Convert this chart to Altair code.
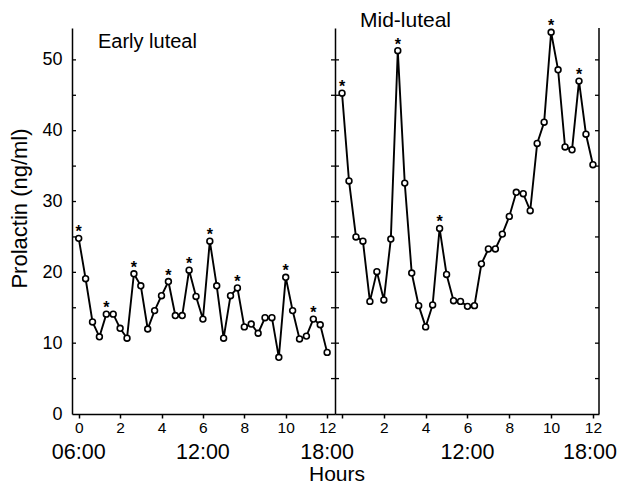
import altair as alt
import pandas as pd

# sampling times (minutes from start of each 12-h session)
minutes = [0, 20, 40, 60, 80, 100, 120, 140, 160, 180, 200, 220, 240, 260, 280,
           300, 320, 340, 360, 380, 400, 420, 440, 460, 480, 500, 520, 540, 560,
           580, 600, 620, 640, 660, 680, 700, 720]

early_luteal = [24.8, 19.1, 13.0, 10.9, 14.1, 14.1, 12.1, 10.7, 19.8, 18.1, 12.0,
                14.6, 16.7, 18.7, 13.9, 13.9, 20.3, 16.6, 13.4, 24.4, 18.1, 10.7,
                16.7, 17.8, 12.3, 12.7, 11.4, 13.6, 13.6, 8.0, 19.3, 14.6, 10.6,
                11.0, 13.4, 12.6, 8.7]

mid_luteal = [45.3, 32.9, 25.0, 24.4, 15.9, 20.1, 16.1, 24.7, 51.3, 32.6, 19.9,
              15.3, 12.3, 15.4, 26.2, 19.7, 16.0, 15.9, 15.2, 15.3, 21.2, 23.3,
              23.3, 25.4, 27.9, 31.3, 31.1, 28.7, 38.2, 41.2, 53.9, 48.6, 37.7,
              37.3, 47.0, 39.5, 35.2]

early_star_idx = [0, 4, 8, 13, 16, 19, 23, 30, 34]
mid_star_idx = [0, 8, 14, 30, 34]

y_tick_values = [0, 5, 10, 15, 20, 25, 30, 35, 40, 45, 50]
inner_tick_values = [5, 10, 15, 20, 25, 30, 35, 40, 45, 50]
x_tick_values = [0, 1, 2, 3, 4, 5, 6, 7, 8, 9, 10, 11, 12]

early_clock_hours = [0, 6, 12]
early_clock_labels = ["06:00", "12:00", "18:00"]
early_clock_dx = [0, 0, 0]
mid_clock_hours = [6, 12]
mid_clock_labels = ["12:00", "18:00"]
mid_clock_dx = [0, -3]

FONT = "Liberation Sans"
H = 386
W1 = 263
W2 = 264
Y_DOMAIN = [0, 54.5]


def make_df(values, star_idx):
    return pd.DataFrame({
        "h": [m / 60 for m in minutes],
        "v": values,
        "star": [i in star_idx for i in range(len(values))],
    })


df_early = make_df(early_luteal, early_star_idx)
df_mid = make_df(mid_luteal, mid_star_idx)
ticks_df = pd.DataFrame({"t": inner_tick_values})


def panel(df, xdom, width, left, clock_hours, clock_labels, clock_dx, name, name_x,
          name_y, name_size):
    if left:
        xlab = "datum.value % 2 == 0 ? datum.label : ''"
        yaxis = alt.Axis(values=y_tick_values,
                         labelExpr="datum.value % 10 == 0 ? datum.label : ''",
                         tickSize=0, labelPadding=10, labelFontSize=18,
                         labelFont=FONT, title="Prolactin (ng/ml)",
                         titleFont=FONT, titleFontSize=22, titleFontWeight="normal",
                         titlePadding=10, titleColor="black", titleY=180)
    else:
        xlab = "datum.value % 2 == 0 && datum.value > 0 ? datum.label : ''"
        yaxis = alt.Axis(values=y_tick_values, labels=False, ticks=False, title=None)

    xs = alt.Scale(domain=xdom, nice=False, zero=False)
    ys = alt.Scale(domain=Y_DOMAIN, nice=False)
    x = alt.X("h:Q", scale=xs,
              axis=alt.Axis(values=x_tick_values, labelExpr=xlab, tickSize=4,
                            tickWidth=1.5, labelPadding=2, labelFontSize=15.5,
                            labelFont=FONT, title=None))
    y = alt.Y("v:Q", scale=ys, axis=yaxis)

    base = alt.Chart(df)
    line = base.mark_line(color="black", strokeWidth=1.9).encode(x=x, y=y)
    pts = base.mark_point(shape="circle", filled=True, fill="white", stroke="black",
                          strokeWidth=1.6, size=34, opacity=1).encode(
        x=alt.X("h:Q", scale=xs), y=alt.Y("v:Q", scale=ys))
    stars = base.transform_filter("datum.star").mark_text(
        text="*", font=FONT, fontSize=16, fontWeight="bold", baseline="alphabetic",
        dy=-1, color="black").encode(
        x=alt.X("h:Q", scale=xs), y=alt.Y("v:Q", scale=ys))

    tick_left = alt.Chart(ticks_df).mark_rule(color="black", strokeWidth=1.3).encode(
        x=alt.value(0), x2=alt.value(4), y=alt.Y("t:Q", scale=ys))
    tick_right = alt.Chart(ticks_df).mark_rule(color="black", strokeWidth=1.3).encode(
        x=alt.value(width - 4), x2=alt.value(width), y=alt.Y("t:Q", scale=ys))

    layers = [line, pts, stars, tick_left, tick_right]
    for hr, lab, dx in zip(clock_hours, clock_labels, clock_dx):
        cdf = pd.DataFrame({"h": [hr], "lab": [lab]})
        layers.append(alt.Chart(cdf).mark_text(
            font=FONT, fontSize=21.5, baseline="middle", align="center", dx=dx,
            color="black").encode(
            x=alt.X("h:Q", scale=xs), y=alt.value(H + 39), text="lab:N"))

    name_df = pd.DataFrame({"lab": [name]})
    layers.append(alt.Chart(name_df).mark_text(
        font=FONT, fontSize=name_size, baseline="alphabetic", align="left",
        color="black").encode(x=alt.value(name_x), y=alt.value(name_y), text="lab:N"))

    if not left:
        edge = alt.Chart(name_df).mark_rule(color="black", strokeWidth=1.5).encode(
            x=alt.value(width), y=alt.value(0), y2=alt.value(H))
        layers.append(edge)
    else:
        hours_df = pd.DataFrame({"lab": ["Hours"]})
        hours_txt = alt.Chart(hours_df).mark_text(
            font=FONT, fontSize=21, baseline="middle", align="center", color="black").encode(
            x=alt.value(width + 2), y=alt.value(H + 61), text="lab:N")
        layers.append(hours_txt)
    return alt.layer(*layers).properties(width=width, height=H)


left_panel = panel(df_early, [-0.324, 12.38], W1, True, early_clock_hours,
                   early_clock_labels, early_clock_dx, "Early luteal", 26, 20, 20)
right_panel = panel(df_mid, [-0.336, 12.29], W2, False, mid_clock_hours,
                    mid_clock_labels, mid_clock_dx, "Mid-luteal", 25, -1, 21)

chart = alt.hconcat(left_panel, right_panel, spacing=0, bounds="flush").properties(
    padding={"left": 0, "top": 2, "right": 0, "bottom": -1}
).configure_view(stroke=None).configure_axis(
    domainColor="black", domainWidth=1.5, tickColor="black", labelColor="black",
    grid=False
)

chart.save("out.html", embed_options={"renderer": "svg", "actions": False})
